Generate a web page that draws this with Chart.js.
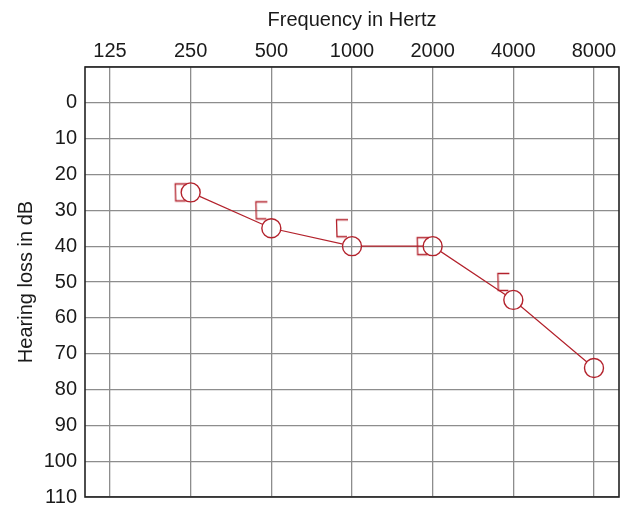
<!DOCTYPE html>
<html>
<head>
<meta charset="utf-8">
<script src="https://cdn.jsdelivr.net/npm/chart.js@4/dist/chart.umd.min.js"></script>
<style>
  html, body { margin: 0; padding: 0; background: #fff; overflow: hidden; }
  #wrap { width: 626px; height: 508px; }
</style>
</head>
<body>
<div id="wrap"><canvas id="audiogram"></canvas></div>
<script>
// frequencies (Hz) and hearing levels (dB)
const frequencies = [125, 250, 500, 1000, 2000, 4000, 8000];
const airFreqs = [250, 500, 1000, 2000, 4000, 8000];
const airLevels = [25, 35, 40, 40, 55, 74];
const boneFreqs = [250, 500, 1000, 2000, 4000];
const boneLevels = [25, 30, 35, 40, 50];
const dbTicks = [-10, 0, 10, 20, 30, 40, 50, 60, 70, 80, 90, 100, 110];

const RED = "#b3222c";
const GRID = "#8d8d8d";
const FONT = "'Liberation Sans', Arial, sans-serif";
const FONT_SIZE = 20;
const CIRCLE_R = 9.5;

// "[" symbol, drawn to the left of the frequency line
function makeBracket() {
  const c = document.createElement("canvas");
  c.width = 40;
  c.height = 24;
  const g = c.getContext("2d");
  g.strokeStyle = RED;
  g.lineWidth = 1.3;
  g.beginPath();
  g.moveTo(16, 3.5);
  g.lineTo(4.5, 3.5);
  g.lineTo(5, 20.5);
  g.lineTo(15, 20.5);
  g.stroke();
  return c;
}

// keeps the connecting line out of the open circles
const circleCutout = {
  id: "circleCutout",
  beforeDatasetDraw(chart, args) {
    if (args.index !== 0) return;
    const ctx = chart.ctx;
    const pts = chart.getDatasetMeta(1).data;
    ctx.save();
    ctx.beginPath();
    ctx.rect(0, 0, chart.width, chart.height);
    pts.forEach((p) => {
      ctx.moveTo(p.x + CIRCLE_R, p.y);
      ctx.arc(p.x, p.y, CIRCLE_R, 0, Math.PI * 2);
    });
    ctx.clip("evenodd");
  },
  afterDatasetDraw(chart, args) {
    if (args.index !== 0) return;
    chart.ctx.restore();
  },
};

// dark frame round the plot area
const frame = {
  id: "frame",
  beforeDatasetsDraw(chart) {
    const { ctx, chartArea: a } = chart;
    ctx.save();
    ctx.strokeStyle = "#222";
    ctx.lineWidth = 1.6;
    ctx.strokeRect(a.left, a.top, a.right - a.left, a.bottom - a.top);
    ctx.restore();
  },
};

const airPoints = airFreqs.map((f, i) => ({ x: f, y: airLevels[i] }));
const bonePoints = boneFreqs.map((f, i) => ({ x: f, y: boneLevels[i] }));

new Chart(document.getElementById("audiogram"), {
  type: "line",
  data: {
    datasets: [
      {
        data: airPoints,
        borderColor: RED,
        borderWidth: 1.2,
        pointRadius: 0,
        tension: 0,
        fill: false,
      },
      {
        data: airPoints,
        showLine: false,
        pointStyle: "circle",
        pointRadius: CIRCLE_R,
        pointBorderColor: RED,
        pointBorderWidth: 1.4,
        pointBackgroundColor: "rgba(0,0,0,0)",
      },
      {
        data: bonePoints,
        showLine: false,
        pointStyle: makeBracket(),
      },
    ],
  },
  options: {
    responsive: true,
    maintainAspectRatio: false,
    animation: false,
    layout: {
      autoPadding: false,
      padding: { top: 0, left: 0, right: 7, bottom: 11 },
    },
    plugins: {
      legend: { display: false },
      tooltip: { enabled: false },
    },
    scales: {
      x: {
        type: "logarithmic",
        position: "top",
        min: 125 * Math.pow(2, -0.31),
        max: 8000 * Math.pow(2, 0.31),
        afterBuildTicks: (scale) => {
          scale.ticks = frequencies.map((v) => ({ value: v }));
        },
        afterFit: (scale) => {
          scale.height = 67;
          scale.paddingLeft = 0;
          scale.paddingRight = 0;
        },
        ticks: {
          autoSkip: false,
          maxRotation: 0,
          padding: 4,
          color: "#1a1a1a",
          font: { family: FONT, size: FONT_SIZE },
          callback: (v) => String(v),
        },
        grid: { color: GRID, lineWidth: 1.3, drawTicks: false },
        border: { display: false },
        title: {
          display: true,
          text: "Frequency in Hertz",
          color: "#1a1a1a",
          font: { family: FONT, size: FONT_SIZE },
          padding: { top: 8, bottom: 0 },
        },
      },
      y: {
        type: "linear",
        reverse: true,
        min: -10,
        max: 110,
        afterBuildTicks: (scale) => {
          scale.ticks = dbTicks.map((v) => ({ value: v }));
        },
        afterFit: (scale) => {
          scale.width = 85;
          scale.paddingTop = 0;
          scale.paddingBottom = 0;
        },
        ticks: {
          padding: 8,
          color: "#1a1a1a",
          font: { family: FONT, size: FONT_SIZE },
          callback: (v) => (v < 0 ? "" : String(v)),
        },
        grid: { color: GRID, lineWidth: 1.3, drawTicks: false },
        border: { display: false },
        title: {
          display: true,
          text: "Hearing loss in dB",
          color: "#1a1a1a",
          font: { family: FONT, size: FONT_SIZE },
          padding: { top: 14, bottom: 0 },
        },
      },
    },
  },
  plugins: [circleCutout, frame],
});
</script>
</body>
</html>
